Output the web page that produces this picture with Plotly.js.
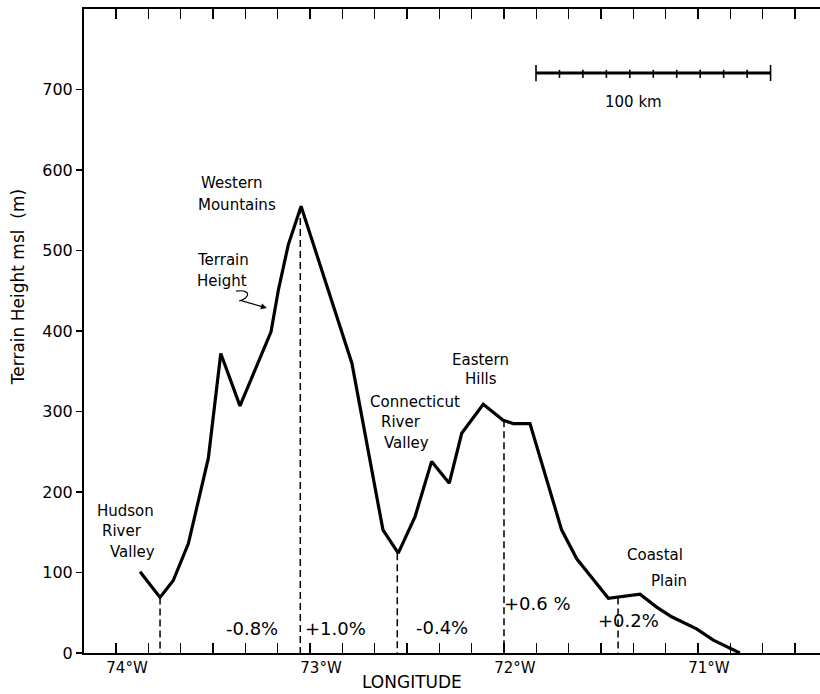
<!DOCTYPE html>
<html>
<head>
<meta charset="utf-8">
<script src="https://cdn.plot.ly/plotly-3.0.1.min.js"></script>
<style>html,body{margin:0;padding:0;background:#fff;}#chart{width:820px;height:694px;}</style>
</head>
<body>
<div id="chart"></div>
<script>
// Terrain profile (longitude in degrees east, i.e. negative = west; height in m msl)
const lon = [-73.876, -73.773, -73.705, -73.627, -73.524, -73.460, -73.361, -73.201, -73.163, -73.112, -73.046, -72.784, -72.624, -72.545, -72.459, -72.373, -72.282, -72.218, -72.107, -72.004, -71.952, -71.866, -71.703, -71.625, -71.462, -71.402, -71.299, -71.213, -71.136, -71.007, -70.921, -70.784];
const height = [101, 69, 90, 136, 242, 372, 307, 399, 451, 507, 555, 360, 153, 124, 169, 238, 211, 273, 309, 289, 285, 285, 153, 117, 68, 70, 73, 57, 45, 30, 16, 0];

// Dashed region dividers
const divLon = [-73.773, -73.05, -72.55, -72.0, -71.412];
const divTop = [69, 554, 124, 289, 69];

// Slope labels
const slopeText = ["-0.8%", "+1.0%", "-0.4%", "+0.6 %", "+0.2%"];
const slopeLon = [-73.299, -72.866, -72.320, -71.825, -71.356];
const slopeY = [31, 31, 32, 62, 41];

// Axis ticks
const degVals = [-74, -73, -72, -71];
const degLabels = ["74°W", "73°W", "72°W", "71°W"];
const minorPerDeg = 6; // 10' ticks
const yTicks = [0, 100, 200, 300, 400, 500, 600, 700];

// Scale bar (100 km)
const scaleKm = [0, 10, 20, 30, 40, 50, 60, 70, 80, 90, 100];
const kmPerDeg = 82.7;
const scaleStart = -71.835;
const scaleY = 720.4;

const font = "DejaVu Sans, sans-serif";

const tickvals = [], ticktext = [];
for (let i = 0; i <= 21; i++) {
  const v = degVals[0] + i / minorPerDeg;
  tickvals.push(v);
  const k = degVals.findIndex(d => Math.abs(d - v) < 1e-6);
  ticktext.push(k >= 0 ? degLabels[k] : "");
}

const profile = {x: lon, y: height, type: "scatter", mode: "lines",
  line: {color: "#000", width: 3.2}, hoverinfo: "skip", showlegend: false};

const dx = [], dy = [];
divLon.forEach((v, i) => { dx.push(v, v, null); dy.push(divTop[i], 0, null); });
const dividers = {x: dx, y: dy, type: "scatter", mode: "lines",
  line: {color: "#000", width: 1.5, dash: "7px,4px"}, hoverinfo: "skip", showlegend: false};

const sbx = scaleKm.map(k => scaleStart + k / kmPerDeg);
const bar = {x: [sbx[0], sbx[sbx.length - 1]], y: [scaleY, scaleY], type: "scatter", mode: "lines",
  line: {color: "#000", width: 3}, hoverinfo: "skip", showlegend: false};
const tx = [], ty = [];
sbx.forEach((v, i) => {
  const end = (i === 0 || i === sbx.length - 1);
  tx.push(v, v, null);
  ty.push(scaleY + (end ? 10 : 4), scaleY - (end ? 10 : 6), null);
});
const barTicks = {x: tx, y: ty, type: "scatter", mode: "lines",
  line: {color: "#000", width: 1.6}, hoverinfo: "skip", showlegend: false};

function lab(text, x, y, xanchor, size) {
  return {text: text, x: x, y: y, xref: "x", yref: "y", xanchor: xanchor || "center", yanchor: "middle",
    showarrow: false, font: {family: font, size: size || 15, color: "#000"}};
}
const annotations = [
  lab("Hudson", -74.108, 177, "left"),
  lab("River", -74.082, 151, "left"),
  lab("Valley", -74.041, 125, "left"),
  lab("Western", -73.400, 584),
  lab("Mountains", -73.376, 557),
  lab("Terrain", -73.593, 488, "left"),
  lab("Height", -73.593, 462, "left"),
  lab("Connecticut", -72.218, 312, "right"),
  lab("River", -72.644, 287, "left"),
  lab("Valley", -72.629, 261, "left"),
  lab("Eastern", -72.119, 364),
  lab("Hills", -72.117, 340),
  lab("Coastal", -71.376, 122, "left"),
  lab("Plain", -71.253, 90, "left"),
  lab("100 km", -71.330, 685),
  {x: -73.222, y: 428.6, xref: "x", yref: "y", ax: -28, ay: -8, text: "", showarrow: true,
   arrowhead: 2, arrowsize: 1, arrowwidth: 1.2, arrowcolor: "#000"},
  {text: "LONGITUDE", xref: "paper", yref: "paper", x: 0.4457, y: -0.0455, xanchor: "center", yanchor: "middle",
   showarrow: false, font: {family: font, size: 17, color: "#000"}},
  {text: "Terrain Height msl\u00a0\u00a0(m)", xref: "paper", yref: "paper", x: -0.0897, y: 0.568, textangle: -90,
   xanchor: "center", yanchor: "middle", showarrow: false, font: {family: font, size: 17, color: "#000"}}
];
slopeText.forEach((t, i) => annotations.push(lab(t, slopeLon[i], slopeY[i], "center", 18)));

const layout = {
  width: 820, height: 694,
  margin: {l: 84, r: 0, t: 9, b: 41},
  paper_bgcolor: "#fff", plot_bgcolor: "#fff",
  showlegend: false,
  xaxis: {range: [-74.165, -70.371], tickmode: "array", tickvals: tickvals, ticktext: ticktext,
    ticks: "inside", ticklen: 10, tickwidth: 1.5, tickcolor: "#000",
    showline: true, linecolor: "#000", linewidth: 2, mirror: "ticks", showgrid: false, zeroline: false,
    ticklabelshift: 11, tickfont: {family: font, size: 15, color: "#000"}},
  yaxis: {range: [0, 800], tickmode: "array", tickvals: yTicks, ticks: "outside", ticklen: 6, tickwidth: 1.5,
    tickcolor: "#000", showline: true, linecolor: "#000", linewidth: 2, showgrid: false, zeroline: false,
    tickfont: {family: font, size: 16, color: "#000"}},
  shapes: [{type: "path", xref: "x", yref: "y",
    path: "M -73.381,449.6 C -73.299,452.1 -73.309,440.9 -73.366,437.3",
    line: {color: "#000", width: 1.2}}],
  annotations: annotations
};

Plotly.newPlot("chart", [profile, dividers, bar, barTicks], layout, {displayModeBar: false, staticPlot: true});
</script>
</body>
</html>
